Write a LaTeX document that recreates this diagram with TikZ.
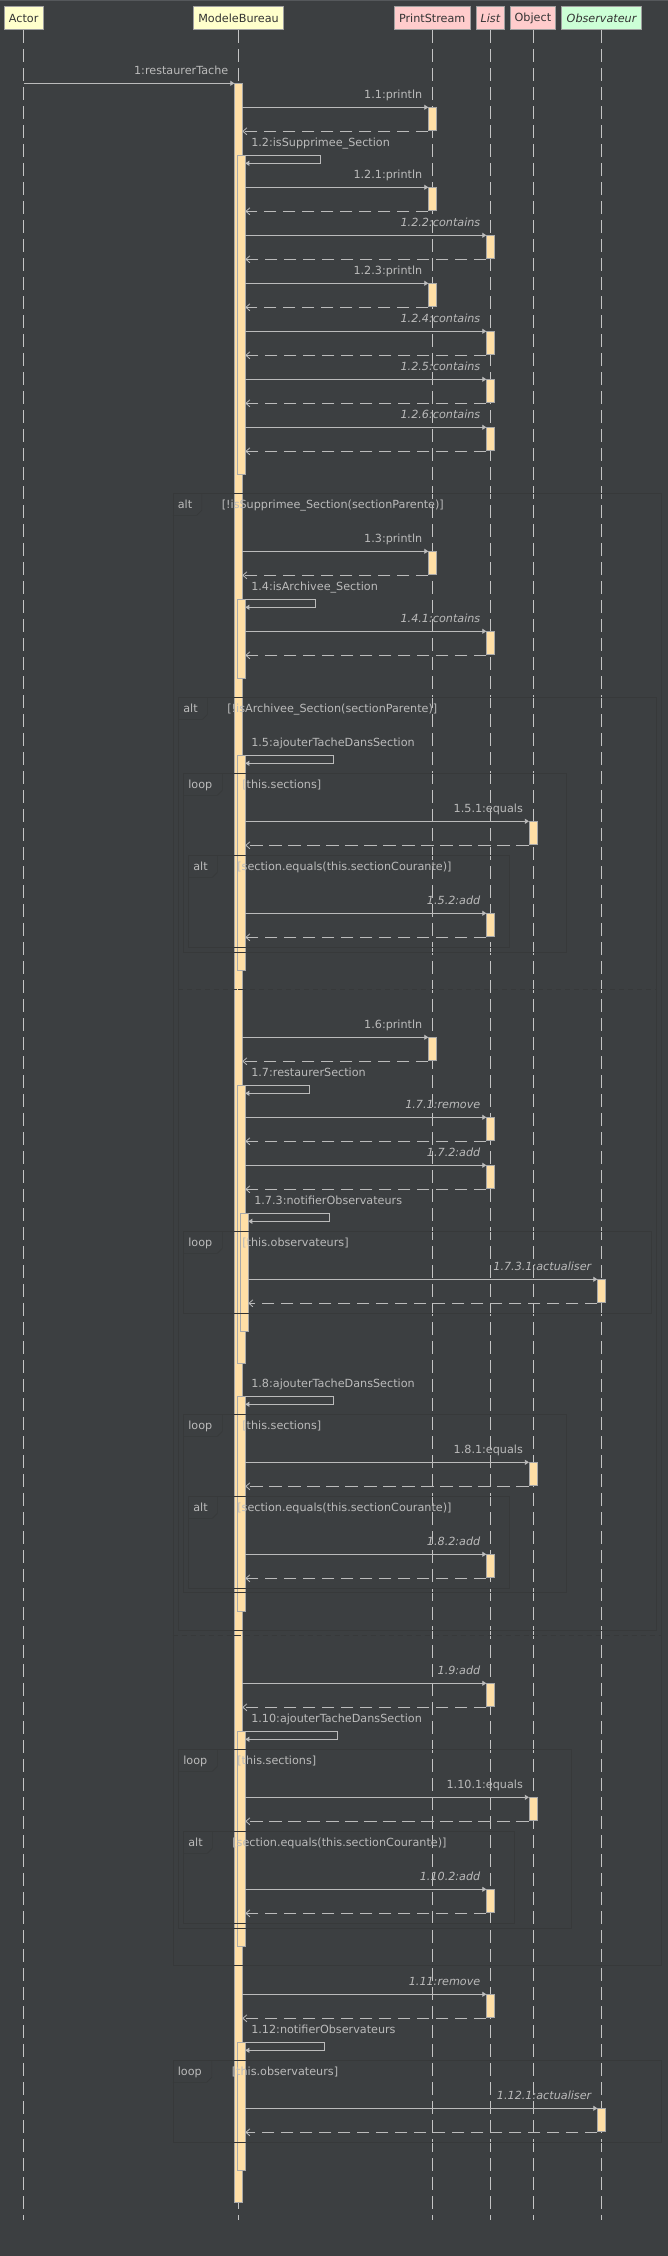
\documentclass[tikz,border=0pt]{standalone}
\usepackage{fontspec}
\setmainfont{DejaVu Sans}
\usetikzlibrary{arrows.meta}
\definecolor{bgC}{HTML}{3C3F41}
\definecolor{lifeC}{HTML}{C4C4C4}
\definecolor{msgC}{HTML}{BBBBBB}
\definecolor{txtC}{HTML}{BBBBBB}
\definecolor{actFill}{HTML}{FFDFA6}
\definecolor{actBorder}{HTML}{A8A8A8}
\definecolor{frmC}{HTML}{37393A}
\definecolor{hdrY}{HTML}{FFFFCC}
\definecolor{hdrR}{HTML}{FFCCCC}
\definecolor{hdrG}{HTML}{CCFFD6}
\definecolor{hdrBorder}{HTML}{A0A0A0}
\definecolor{hdrText}{HTML}{333333}
\definecolor{topC}{HTML}{55585B}
\newcommand\myfs{\fontsize{11.2}{13.4}\selectfont}
\tikzset{
  lifeln/.style={draw=lifeC, line width=0.8pt, dash pattern=on 12.5pt off 6.5pt},
  actbox/.style={rectangle, draw=actBorder, fill=actFill, line width=0.7pt, minimum width=8pt, inner sep=0pt, outer sep=0pt},
  callln/.style={draw=msgC, line width=0.8pt, -{Triangle[length=4pt,width=5pt]}},
  retln/.style={draw=msgC, line width=0.8pt, dash pattern=on 12.5pt off 6.5pt, -{Straight Barb[length=4pt,width=7pt]}},
  selfln/.style={draw=msgC, line width=0.8pt, -{Triangle[length=4pt,width=5pt]}},
  msglab/.style={text=txtC, inner sep=0pt, outer sep=0pt, font=\myfs},
  hdrbox/.style={rectangle, draw=hdrBorder, line width=0.7pt, text=hdrText, inner sep=0pt, minimum height=23.4pt, font=\myfs},
  frmln/.style={draw=frmC, line width=0.6pt},
  frmmark/.style={draw=black!80, line width=0.6pt},
}
% call: name, y, x from, lifeline x of target, label
\newcommand\seqcall[5]{%
  \node[actbox, minimum height=23pt, anchor=north] (#1a) at (#4,#2) {};
  \coordinate (#1s) at (#3,#2);
  \coordinate (#1r) at (#3,{#2+24});
  \draw[callln] (#1s) -- (#1a.north west);
  \draw[retln] (#1a.south west |- #1r) -- (#1r);
  \node[msglab, anchor=mid east] (#1l) at ([xshift=-6pt,yshift=12pt]#1a.north west) {#5};
}
% self call: name, y, bar left, bar bottom, loop right x, label
\newcommand\seqself[6]{%
  \node[actbox, anchor=north west, minimum height={(#4-#2)*1pt}] (#1a) at (#3,#2) {};
  \coordinate (#1f) at (#5,#2);
  \coordinate (#1e) at ({#3+8},{#2+8});
  \draw[selfln] (#1a.north east) -- (#1f) |- (#1e);
  \node[msglab, anchor=mid west] (#1l) at ([xshift=6pt,yshift=12pt]#1a.north east) {#6};
}
% frame: name, left, top, right, bottom, kind, tab width, guard
\newcommand\seqframe[8]{%
  \draw[frmln] (#2,#3) rectangle (#4,#5);
  \draw[frmln] (#2,{#3+22}) -- ({#2+#7-5},{#3+22}) -- ({#2+#7},{#3+17}) -- ({#2+#7},#3);
  \node[msglab, anchor=mid west] (#1k) at ({#2+5},{#3+12}) {#6};
  \node[msglab, anchor=mid west] (#1g) at ({#2+#7+20},{#3+12}) {#8};
}
% dark mark where a frame edge crosses the activation bars: y, x left, x right
\newcommand\seqmark[3]{%
  \draw[frmmark] (#2,#1) -- (#3,#1);
}
\begin{document}
\begin{tikzpicture}[x=1pt,y=-1pt]
\useasboundingbox (0,0) rectangle (668,2256);
\fill[bgC] (0,0) rectangle (668,2256);
\fill[topC] (0,0) rectangle (668,1.2);

% headers
\node[hdrbox, fill=hdrY, minimum width=38.7pt] (actor) at (23.65,18) {Actor};
\node[hdrbox, fill=hdrY, minimum width=90.3pt] (mb) at (238.55,18) {ModeleBureau};
\node[hdrbox, fill=hdrR, minimum width=76.3pt] (ps) at (432.15,18) {PrintStream};
\node[hdrbox, fill=hdrR, minimum width=28.1pt] (lst) at (490.35,18) {\itshape List};
\node[hdrbox, fill=hdrR, minimum width=45.2pt] (obj) at (532.9,18) {Object};
\node[hdrbox, fill=hdrG, minimum width=80.1pt] (obs) at (601.55,18) {\itshape Observateur};

% lifelines
\coordinate (lifeend) at (0,2220);
\foreach \h in {actor,mb,ps,lst,obj,obs}{
  \draw[lifeln] (\h.south) -- (\h.south |- lifeend);
}

% main activation
\node[actbox, anchor=north west, minimum height=2119pt] (mainact) at (234.3,83.3) {};
\coordinate (c1s) at (actor.south |- mainact.north west);
\draw[callln] (c1s) -- (mainact.north west);
\node[msglab, anchor=mid east] (c1l) at ([xshift=-6pt,yshift=12pt]mainact.north west) {1:restaurerTache};

\seqcall{cA}{107.3}{242.3}{432.3}{1.1:println}
\seqself{sB}{155.3}{237.3}{474.5}{320.4}{1.2:isSupprimee\_Section}
\seqcall{cC}{187.3}{245.3}{432.3}{1.2.1:println}
\seqcall{cD}{235.3}{245.3}{490.3}{\itshape 1.2.2:contains}
\seqcall{cE}{283.3}{245.3}{432.3}{1.2.3:println}
\seqcall{cF}{331.3}{245.3}{490.3}{\itshape 1.2.4:contains}
\seqcall{cG}{379.3}{245.3}{490.3}{\itshape 1.2.5:contains}
\seqcall{cH}{427.3}{245.3}{490.3}{\itshape 1.2.6:contains}
\seqcall{cI}{551.3}{242.3}{432.3}{1.3:println}
\seqself{sJ}{599.3}{237.3}{678}{315.3}{1.4:isArchivee\_Section}
\seqcall{cK}{631.3}{245.3}{490.3}{\itshape 1.4.1:contains}
\seqself{sL}{755.3}{237.3}{970}{333.6}{1.5:ajouterTacheDansSection}
\seqcall{cM}{821.3}{245.3}{532.9}{1.5.1:equals}
\seqcall{cN}{913.3}{245.3}{490.3}{\itshape 1.5.2:add}
\seqcall{cO}{1037.3}{242.3}{432.3}{1.6:println}
\seqself{sP}{1085.3}{237.3}{1363.3}{309.7}{1.7:restaurerSection}
\seqcall{cQ}{1117.3}{245.3}{490.3}{\itshape 1.7.1:remove}
\seqcall{cR}{1165.3}{245.3}{490.3}{\itshape 1.7.2:add}
\seqself{sS}{1213.3}{240.3}{1331.7}{329.7}{1.7.3:notifierObservateurs}
\seqcall{cT}{1279.3}{248.3}{601.3}{\itshape 1.7.3.1:actualiser}
\seqself{sU}{1396.3}{237.3}{1611.5}{333.6}{1.8:ajouterTacheDansSection}
\seqcall{cV}{1462.3}{245.3}{532.9}{1.8.1:equals}
\seqcall{cW}{1554.3}{245.3}{490.3}{\itshape 1.8.2:add}
\seqcall{cX}{1683.3}{242.3}{490.3}{\itshape 1.9:add}
\seqself{sY}{1731.3}{237.3}{1946.3}{337.4}{1.10:ajouterTacheDansSection}
\seqcall{cZ}{1797.3}{245.3}{532.9}{1.10.1:equals}
\seqcall{cAA}{1889.3}{245.3}{490.3}{\itshape 1.10.2:add}
\seqcall{cAB}{1994.3}{242.3}{490.3}{\itshape 1.11:remove}
\seqself{sAC}{2042.3}{237.3}{2170.3}{324.6}{1.12:notifierObservateurs}
\seqcall{cAD}{2108.3}{245.3}{601.3}{\itshape 1.12.1:actualiser}

% combined fragments (faint)
\seqframe{fA}{172.8}{493.3}{661.7}{1965.3}{alt}{29}{[!isSupprimee\_Section(sectionParente)]}
\draw[frmln, dash pattern=on 5pt off 4pt] (172.8,1635) -- (661.7,1635);
\seqframe{fB}{178.3}{697.4}{656.7}{1630}{alt}{29}{[!isArchivee\_Section(sectionParente)]}
\draw[frmln, dash pattern=on 5pt off 4pt] (178.3,989) -- (656.7,989);
\seqframe{fC}{183.3}{773.3}{566.7}{952}{loop}{39}{[this.sections]}
\seqframe{fD}{188.3}{855.3}{509.3}{947.3}{alt}{29}{[section.equals(this.sectionCourante)]}
\seqframe{fE}{183.3}{1231.3}{651.7}{1313.3}{loop}{39}{[this.observateurs]}
\seqframe{fF}{183.3}{1414.3}{566.7}{1592}{loop}{39}{[this.sections]}
\seqframe{fG}{188.3}{1496.3}{509.3}{1588.3}{alt}{29}{[section.equals(this.sectionCourante)]}
\seqframe{fH}{178.3}{1749.3}{571.7}{1928.3}{loop}{39}{[this.sections]}
\seqframe{fI}{183.3}{1831.3}{514.3}{1923.3}{alt}{29}{[section.equals(this.sectionCourante)]}
\seqframe{fJ}{172.8}{2060.3}{661.7}{2142.3}{loop}{39}{[this.observateurs]}

% dark marks on activation bars
\seqmark{493.3}{234.3}{242.3}
\seqmark{697.4}{234.3}{242.3}
\seqmark{773.3}{234.3}{245.3}
\seqmark{855.3}{234.3}{245.3}
\seqmark{947.3}{234.3}{245.3}
\seqmark{952}{234.3}{245.3}
\seqmark{989}{238.3}{242.3}
\seqmark{1231.3}{234.3}{248.3}
\seqmark{1313.3}{234.3}{248.3}
\seqmark{1414.3}{234.3}{245.3}
\seqmark{1496.3}{234.3}{245.3}
\seqmark{1588.3}{234.3}{245.3}
\seqmark{1592}{234.3}{245.3}
\seqmark{1630}{234.3}{242.3}
\seqmark{1635}{234.3}{238.3}
\seqmark{1749.3}{234.3}{245.3}
\seqmark{1831.3}{234.3}{245.3}
\seqmark{1923.3}{234.3}{245.3}
\seqmark{1928.3}{234.3}{245.3}
\seqmark{1965.3}{234.3}{242.3}
\seqmark{2060.3}{234.3}{245.3}
\seqmark{2142.3}{234.3}{245.3}
\end{tikzpicture}
\end{document}
